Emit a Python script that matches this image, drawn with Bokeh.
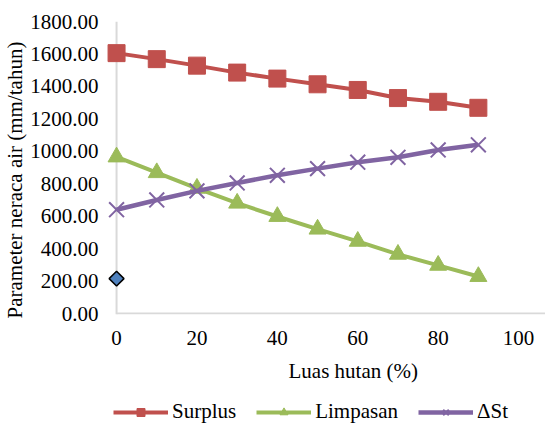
from bokeh.plotting import figure
from bokeh.layouts import column
from bokeh.models import (Legend, LegendItem, FixedTicker, Span, Title,
                          NumeralTickFormatter, Range1d)
from bokeh.embed import file_html
from bokeh.resources import INLINE

# ---- data ----
luas_hutan = [0, 10, 20, 30, 40, 50, 60, 70, 80, 90]
surplus = [1605, 1568, 1528, 1485, 1448, 1413, 1378, 1328, 1305, 1268]
limpasan = [965, 868, 772, 680, 598, 520, 445, 365, 297, 228]
delta_st = [640, 700, 756, 805, 852, 893, 933, 963, 1008, 1040]
titik_x = [0]
titik_y = [215]

x_ticks = [0, 20, 40, 60, 80, 100]
y_ticks = [0, 200, 400, 600, 800, 1000, 1200, 1400, 1600, 1800]

FONT = "Liberation Serif"
RED = "#C0504D"
GREEN = "#9BBB59"
PURPLE = "#8064A2"
BLUE = "#4F81BD"
AXIS_GRAY = "#d9d9d9"

X_START, X_END = -3.0, 106.7

p = figure(width=545, height=397, output_backend="svg", toolbar_location=None,
           x_range=Range1d(X_START, X_END), y_range=Range1d(-6, 1800),
           min_border_left=104, min_border_top=21, min_border_right=0,
           min_border_bottom=83)
p.outline_line_color = None
p.xgrid.grid_line_color = None
p.ygrid.grid_line_color = None
p.background_fill_color = "white"
p.border_fill_color = "white"

for ax in (p.xaxis[0], p.yaxis[0]):
    ax.axis_line_color = None
    ax.major_tick_line_color = None
    ax.minor_tick_line_color = None
    ax.major_tick_out = 0
    ax.major_tick_in = 0
    ax.major_label_text_font = FONT
    ax.major_label_text_font_size = "21px"
    ax.major_label_text_color = "#000000"

p.xaxis.ticker = FixedTicker(ticks=x_ticks)
p.yaxis.ticker = FixedTicker(ticks=y_ticks)
p.yaxis.formatter = NumeralTickFormatter(format="0.00")
p.xaxis.major_label_standoff = 16
p.yaxis.major_label_standoff = 6

ytitle = Title(text="Parameter neraca air (mm/tahun)", align="left",
               offset=-4, text_font=FONT, text_font_size="21px",
               text_font_style="normal", text_color="#000000", standoff=1)
p.add_layout(ytitle, "left")

xtitle = Title(text="Luas hutan (%)", align="left", offset=184,
               text_font=FONT, text_font_size="21px",
               text_font_style="normal", text_color="#000000", standoff=19)
p.add_layout(xtitle, "below")

# axis lines (vertical at x=0, horizontal at y=0)
p.add_layout(Span(location=0, dimension="height", line_color=AXIS_GRAY,
                  line_width=2, level="underlay"))
p.segment(x0=[0], y0=[0], x1=[X_END], y1=[0], line_color=AXIS_GRAY,
          line_width=2, level="underlay")

# series
p.line(luas_hutan, surplus, line_color=RED, line_width=4)
p.scatter(luas_hutan, surplus, marker="square", size=17,
          fill_color=RED, line_color=RED)
p.line(luas_hutan, limpasan, line_color=GREEN, line_width=4)
p.scatter(luas_hutan, limpasan, marker="triangle", size=17,
          fill_color=GREEN, line_color=GREEN)
p.line(luas_hutan, delta_st, line_color=PURPLE, line_width=4.5)
p.scatter(luas_hutan, delta_st, marker="x", size=21,
          line_color=PURPLE, line_width=2)
p.scatter(titik_x, titik_y, marker="square", angle=0.785398, size=10.5,
          fill_color=BLUE, line_color="#000000", line_width=1.5)

# ---- legend strip below the chart (series drawn off-view, legend only) ----
q = figure(width=545, height=27, output_backend="svg", toolbar_location=None,
           x_axis_location=None, y_axis_location=None,
           x_range=Range1d(1000, 1001), y_range=Range1d(5000, 5001),
           min_border_left=0, min_border_right=0, min_border_top=0,
           min_border_bottom=0)
q.outline_line_color = None
q.xgrid.grid_line_color = None
q.ygrid.grid_line_color = None
q.background_fill_color = "white"
q.border_fill_color = "white"

ql1 = q.line(luas_hutan, surplus, line_color=RED, line_width=4)
qm1 = q.scatter(luas_hutan, surplus, marker="square", size=17,
                fill_color=RED, line_color=RED)
ql2 = q.line(luas_hutan, limpasan, line_color=GREEN, line_width=4)
qm2 = q.scatter(luas_hutan, limpasan, marker="triangle", size=17,
                fill_color=GREEN, line_color=GREEN)
ql3 = q.line(luas_hutan, delta_st, line_color=PURPLE, line_width=4.5)
qm3 = q.scatter(luas_hutan, delta_st, marker="x", size=17,
                line_color=PURPLE, line_width=2)

legend = Legend(items=[
    LegendItem(label="Surplus", renderers=[ql1, qm1]),
    LegendItem(label="Limpasan", renderers=[ql2, qm2]),
    LegendItem(label="\u0394St", renderers=[ql3, qm3]),
], orientation="horizontal", location=(9, 0))
legend.label_text_font = FONT
legend.label_text_font_size = "21px"
legend.label_text_color = "#000000"
legend.glyph_width = 55
legend.glyph_height = 20
legend.spacing = 20
legend.label_standoff = 4
legend.border_line_color = None
legend.background_fill_alpha = 0
legend.padding = 0
legend.margin = 0
q.add_layout(legend, "center")

open("out.html", "w").write(file_html(column(p, q, spacing=0), INLINE))
